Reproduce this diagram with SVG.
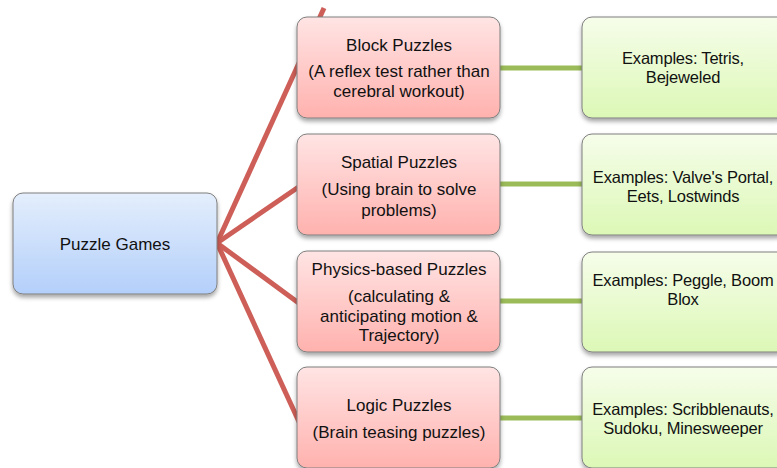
<svg xmlns="http://www.w3.org/2000/svg" width="777" height="468" viewBox="0 0 777 468">
  <defs>
    <linearGradient id="gBlue" x1="0" y1="0" x2="0" y2="1">
      <stop offset="0" stop-color="#e4eefc"/>
      <stop offset="1" stop-color="#b3cffa"/>
    </linearGradient>
    <linearGradient id="gPink" x1="0" y1="0" x2="0" y2="1">
      <stop offset="0" stop-color="#ffe4e4"/>
      <stop offset="1" stop-color="#ffb2ae"/>
    </linearGradient>
    <linearGradient id="gGreen" x1="0" y1="0" x2="0" y2="1">
      <stop offset="0" stop-color="#f6fdea"/>
      <stop offset="1" stop-color="#dcf8b6"/>
    </linearGradient>
    <filter id="shadow" x="-10%" y="-10%" width="120%" height="130%">
      <feDropShadow dx="0" dy="3" stdDeviation="2" flood-color="#000" flood-opacity="0.35"/>
    </filter>
  </defs>
  <style>
    .box { stroke: #7f7f7f; stroke-width: 1; filter: url(#shadow); }
    .root { fill: url(#gBlue); }
    .cat { fill: url(#gPink); }
    .ex { fill: url(#gGreen); }
    text { font-family: "Liberation Sans", Arial, sans-serif; font-size: 17px; fill: #111; text-anchor: middle; }
    .ex-t { font-size: 16.5px; letter-spacing: -0.2px; }
    .red { stroke: #cd5f58; stroke-width: 5; fill: none; stroke-linecap: butt; }
    .grn { stroke: #9bbb59; stroke-width: 5; fill: none; }
  </style>

  <!-- connectors -->
  <g id="connectors">
    <line class="red" x1="217" y1="243" x2="324" y2="8"/>
    <line class="red" x1="217" y1="243" x2="300" y2="186"/>
    <line class="red" x1="217" y1="243" x2="300" y2="304"/>
    <line class="red" x1="217" y1="243" x2="300" y2="424"/>
    <line class="grn" x1="500" y1="68" x2="583" y2="68"/>
    <line class="grn" x1="500" y1="184" x2="583" y2="184"/>
    <line class="grn" x1="500" y1="301" x2="583" y2="301"/>
    <line class="grn" x1="500" y1="418" x2="583" y2="418"/>
  </g>

  <!-- root -->
  <g id="puzzle-games">
    <rect class="box root" x="13" y="193" width="204" height="101" rx="10"/>
    <text x="115" y="250">Puzzle Games</text>
  </g>

  <!-- categories -->
  <g id="block-puzzles">
    <rect class="box cat" x="297" y="17" width="203" height="101" rx="10"/>
    <text x="399" y="51">Block Puzzles</text>
    <text x="399" y="77">(A reflex test rather than</text>
    <text x="399" y="97">cerebral workout)</text>
  </g>
  <g id="spatial-puzzles">
    <rect class="box cat" x="297" y="134" width="203" height="101" rx="10"/>
    <text x="399" y="168">Spatial Puzzles</text>
    <text x="399" y="195">(Using brain to solve</text>
    <text x="399" y="216">problems)</text>
  </g>
  <g id="physics-puzzles">
    <rect class="box cat" x="297" y="251" width="203" height="101" rx="10"/>
    <text x="399" y="275">Physics-based Puzzles</text>
    <text x="399" y="302">(calculating &amp;</text>
    <text x="399" y="322">anticipating motion &amp;</text>
    <text x="399" y="341">Trajectory)</text>
  </g>
  <g id="logic-puzzles">
    <rect class="box cat" x="297" y="367" width="203" height="101" rx="10"/>
    <text x="399" y="411">Logic Puzzles</text>
    <text x="399" y="438">(Brain teasing puzzles)</text>
  </g>

  <!-- examples -->
  <g id="block-examples">
    <rect class="box ex" x="582" y="17" width="205" height="101" rx="10"/>
    <text class="ex-t" x="683" y="64">Examples: Tetris,</text>
    <text class="ex-t" x="683" y="83">Bejeweled</text>
  </g>
  <g id="spatial-examples">
    <rect class="box ex" x="582" y="134" width="205" height="101" rx="10"/>
    <text class="ex-t" x="683" y="183">Examples: Valve's Portal,</text>
    <text class="ex-t" x="683" y="202">Eets, Lostwinds</text>
  </g>
  <g id="physics-examples">
    <rect class="box ex" x="582" y="252" width="205" height="100" rx="10"/>
    <text class="ex-t" x="683" y="286">Examples: Peggle, Boom</text>
    <text class="ex-t" x="683" y="305">Blox</text>
  </g>
  <g id="logic-examples">
    <rect class="box ex" x="582" y="367" width="205" height="101" rx="10"/>
    <text class="ex-t" x="683" y="415">Examples: Scribblenauts,</text>
    <text class="ex-t" x="683" y="434">Sudoku, Minesweeper</text>
  </g>
</svg>
